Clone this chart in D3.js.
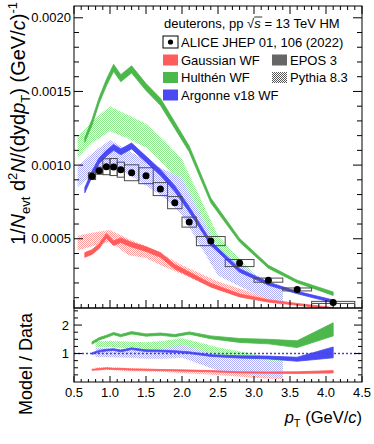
<!DOCTYPE html>
<html>
<head>
<meta charset="utf-8">
<script src="https://cdn.jsdelivr.net/npm/d3@7"></script>
<style>
  body { margin: 0; background: #fff; }
  svg { font-family: "Liberation Sans", Arial, sans-serif; }
</style>
</head>
<body>
<svg id="chart" width="374" height="444"></svg>
<script>
// ALICE deuteron data (pT bins, yields, systematic errors)
var ptData = [0.75, 0.85, 0.95, 1.05, 1.15, 1.3, 1.5, 1.7, 1.9, 2.1, 2.4, 2.8, 3.2, 3.6, 4.1];
var ptLow  = [0.7, 0.8, 0.9, 1.0, 1.1, 1.2, 1.4, 1.6, 1.8, 2.0, 2.2, 2.6, 3.0, 3.4, 3.8];
var ptHigh = [0.8, 0.9, 1.0, 1.1, 1.2, 1.4, 1.6, 1.8, 2.0, 2.2, 2.6, 3.0, 3.4, 3.8, 4.4];
var yieldData = [0.000925, 0.000962, 0.000989, 0.000987, 0.000969, 0.000948, 0.000928, 0.000837, 0.000745, 0.000613, 0.000484, 0.000335, 0.000219, 0.000156, 0.000068];
var yieldSys  = [0.000023, 0.000024, 0.000054, 0.000058, 0.000051, 0.000054, 0.000054, 0.000044, 0.000041, 0.000034, 0.000031, 0.000024, 0.000014, 0.000010, 0.000007];

// EPOS 3 (solid bands)
var ptEpos = [0.65, 0.75, 0.85, 0.95, 1.05, 1.15, 1.3, 1.5, 1.7, 1.9, 2.1, 2.4, 2.8, 3.2, 3.6, 4.1];
var gaussEpos    = [0.00039, 0.00041, 0.00045, 0.00052, 0.00047, 0.00049, 0.00046, 0.00043, 0.00039, 0.00031, 0.00026, 0.000185, 0.000115, 0.000078, 0.000055, 0.000028];
var gaussEposErr = [0.000016, 0.000016, 0.000016, 0.000016, 0.000016, 0.000016, 0.000016, 0.000016, 0.000016, 0.000015, 0.000014, 0.000012, 0.00001, 0.000008, 0.000006, 0.000005];
var hulthenEpos    = [0.00117, 0.00129, 0.00144, 0.00156, 0.00166, 0.00159, 0.00165, 0.00153, 0.00143, 0.00127, 0.00111, 0.00076, 0.00049, 0.00031, 0.00021, 0.000127];
var hulthenEposErr = [0.000015, 0.00002, 0.00002, 0.000022, 0.000024, 0.000024, 0.000024, 0.000024, 0.000024, 0.000022, 0.00002, 0.000016, 0.000012, 0.00001, 0.000009, 0.000012];
var argonneEpos    = [0.00083, 0.00094, 0.00103, 0.00108, 0.00112, 0.00109, 0.00113, 0.00104, 0.00095, 0.00084, 0.00070, 0.00047, 0.000285, 0.000195, 0.000135, 0.000075];
var argonneEposErr = [0.000018, 0.00002, 0.00002, 0.00002, 0.00002, 0.00002, 0.00002, 0.00002, 0.00002, 0.00002, 0.000018, 0.000015, 0.000012, 0.00001, 0.000008, 0.00001];

// Pythia 8.3 (hatched bands, lower / upper edge)
var ptPythia = [0.55, 0.75, 1.0, 1.25, 1.5, 1.75, 2.0, 2.5, 3.0, 3.4];
var gaussPyLo   = [0.00042, 0.00045, 0.00048, 0.00039, 0.00037, 0.00031, 0.00026, 0.00015, 0.00009, 0.00005];
var gaussPyHi   = [0.00052, 0.00054, 0.00056, 0.00050, 0.00045, 0.00039, 0.00032, 0.00021, 0.00013, 0.00008];
var hulthenPyLo = [0.00105, 0.00115, 0.00123, 0.00118, 0.00112, 0.00100, 0.00086, 0.00042, 0.00019, 0.00009];
var hulthenPyHi = [0.00119, 0.00130, 0.00140, 0.00134, 0.00128, 0.00117, 0.00104, 0.00052, 0.00026, 0.00014];
var argonnePyLo = [0.00085, 0.00093, 0.00100, 0.00094, 0.00086, 0.00078, 0.00066, 0.00025, 0.00013, 0.00006];
var argonnePyHi = [0.00099, 0.00108, 0.00117, 0.00110, 0.00103, 0.00097, 0.00091, 0.00043, 0.00026, 0.00017];

// Model / Data, EPOS 3
var gaussRatio      = [0.43, 0.45, 0.48, 0.46, 0.46, 0.44, 0.43, 0.42, 0.41, 0.40, 0.38, 0.34, 0.33, 0.33, 0.36];
var gaussRatioErr   = [0.02, 0.02, 0.02, 0.02, 0.02, 0.02, 0.02, 0.02, 0.02, 0.02, 0.02, 0.02, 0.025, 0.03, 0.04];
var hulthenRatio    = [1.37, 1.52, 1.60, 1.70, 1.63, 1.73, 1.65, 1.68, 1.63, 1.72, 1.57, 1.46, 1.42, 1.33, 1.85];
var hulthenRatioErr = [0.04, 0.04, 0.04, 0.04, 0.04, 0.04, 0.04, 0.04, 0.04, 0.04, 0.05, 0.07, 0.08, 0.12, 0.23];
var argonneRatio    = [1.00, 1.08, 1.12, 1.14, 1.09, 1.17, 1.10, 1.09, 1.07, 1.03, 0.93, 0.88, 0.86, 0.80, 1.04];
var argonneRatioErr = [0.03, 0.03, 0.03, 0.03, 0.03, 0.03, 0.03, 0.03, 0.03, 0.03, 0.03, 0.04, 0.05, 0.07, 0.19];

// Model / Data, Pythia 8.3
var ptPyRatio = [0.8, 1.0, 1.25, 1.5, 1.75, 2.0, 2.5, 3.0, 3.4];
var gaussPyRatioLo   = [0.40, 0.42, 0.38, 0.37, 0.35, 0.32, 0.25, 0.15, 0.10];
var gaussPyRatioHi   = [0.52, 0.52, 0.49, 0.47, 0.45, 0.44, 0.40, 0.37, 0.35];
var hulthenPyRatioLo = [1.22, 1.22, 1.17, 1.12, 1.15, 1.20, 0.94, 0.70, 0.47];
var hulthenPyRatioHi = [1.43, 1.45, 1.42, 1.40, 1.45, 1.55, 1.22, 0.98, 0.76];
var argonnePyRatioLo = [0.88, 0.87, 0.85, 0.82, 0.82, 0.85, 0.40, 0.25, 0.14];
var argonnePyRatioHi = [1.20, 1.18, 1.15, 1.12, 1.18, 1.30, 0.94, 0.80, 0.70];

// Axis ticks
var xMajor = [0.5, 1.0, 1.5, 2.0, 2.5, 3.0, 3.5, 4.0, 4.5];
var yMajor = [0.0005, 0.0010, 0.0015, 0.0020];
var rMajor = [1, 2];

// Farver
var red = "#ff5c5c", green = "#4cb84c", blue = "#4a4af5";
var redHatch = "#ff9c9c", greenHatch = "#8eec8e", blueHatch = "#aeaef6";

var svg = d3.select("#chart");
var pLeft = 74, pRight = 362, pTop = 6, pMid = 308, pBottom = 382;

var x = d3.scaleLinear().domain([0.5, 4.5]).range([pLeft, pRight]);
var y = d3.scaleLinear().domain([0.00003, 0.00208]).range([pMid, pTop]);
var yr = d3.scaleLinear().domain([0, 2.6]).range([pBottom, pMid]);

var defs = svg.append("defs");
defs.append("clipPath").attr("id", "clipMain").append("rect")
    .attr("x", pLeft).attr("y", pTop).attr("width", pRight - pLeft).attr("height", pMid - pTop);
defs.append("clipPath").attr("id", "clipRatio").append("rect")
    .attr("x", pLeft).attr("y", pMid).attr("width", pRight - pLeft).attr("height", pBottom - pMid);

// Ternet skravering (ROOT fill style 3001)
function checker(id, color) {
    var p = defs.append("pattern").attr("id", id)
        .attr("patternUnits", "userSpaceOnUse").attr("width", 2).attr("height", 2);
    p.append("rect").attr("x", 0).attr("y", 0).attr("width", 1).attr("height", 1).attr("fill", color);
    p.append("rect").attr("x", 1).attr("y", 1).attr("width", 1).attr("height", 1).attr("fill", color);
}
checker("hatchRed", redHatch);
checker("hatchGreen", greenHatch);
checker("hatchBlue", blueHatch);
checker("hatchGray", "#555");

function band(g, xs, lo, hi, yS, fill, stroke) {
    var pts = xs.map(function(d, i) { return [d, lo[i], hi[i]]; });
    g.append("path").datum(pts)
        .attr("d", d3.area().x(function(d) { return x(d[0]); })
            .y0(function(d) { return yS(d[1]); })
            .y1(function(d) { return yS(d[2]); }))
        .attr("fill", fill)
        .attr("stroke", stroke || "none")
        .attr("stroke-width", stroke ? 0.8 : 0);
}
function errBand(g, xs, v, e, yS, color) {
    band(g, xs, v.map(function(d, i) { return d - e[i]; }), v.map(function(d, i) { return d + e[i]; }), yS, color, color);
}

// ---- Hovedpanel ----
var gMain = svg.append("g").attr("clip-path", "url(#clipMain)");
band(gMain, ptPythia, gaussPyLo, gaussPyHi, y, "url(#hatchRed)");
band(gMain, ptPythia, hulthenPyLo, hulthenPyHi, y, "url(#hatchGreen)");
band(gMain, ptPythia, argonnePyLo, argonnePyHi, y, "url(#hatchBlue)");
errBand(gMain, ptEpos, gaussEpos, gaussEposErr, y, red);
errBand(gMain, ptEpos, hulthenEpos, hulthenEposErr, y, green);
errBand(gMain, ptEpos, argonneEpos, argonneEposErr, y, blue);

// Systematiske bokse og datapunkter
gMain.selectAll("rect.sys").data(ptData).enter().append("rect")
    .attr("class", "sys")
    .attr("x", function(d, i) { return x(ptLow[i]); })
    .attr("width", function(d, i) { return x(ptHigh[i]) - x(ptLow[i]); })
    .attr("y", function(d, i) { return y(yieldData[i] + yieldSys[i]); })
    .attr("height", function(d, i) { return y(yieldData[i] - yieldSys[i]) - y(yieldData[i] + yieldSys[i]); })
    .attr("fill", "none").attr("stroke", "#4a4a4a").attr("stroke-width", 1);
gMain.selectAll("circle.pt").data(ptData).enter().append("circle")
    .attr("class", "pt")
    .attr("cx", function(d) { return x(d); })
    .attr("cy", function(d, i) { return y(yieldData[i]); })
    .attr("r", 3.5).attr("fill", "#000");

// ---- Ratiopanel ----
var gRatio = svg.append("g").attr("clip-path", "url(#clipRatio)");
band(gRatio, ptPyRatio, gaussPyRatioLo, gaussPyRatioHi, yr, "url(#hatchRed)");
band(gRatio, ptPyRatio, hulthenPyRatioLo, hulthenPyRatioHi, yr, "url(#hatchGreen)");
band(gRatio, ptPyRatio, argonnePyRatioLo, argonnePyRatioHi, yr, "url(#hatchBlue)");
errBand(gRatio, ptData, gaussRatio, gaussRatioErr, yr, red);
errBand(gRatio, ptData, hulthenRatio, hulthenRatioErr, yr, green);
errBand(gRatio, ptData, argonneRatio, argonneRatioErr, yr, blue);
gRatio.append("line")
    .attr("x1", pLeft).attr("x2", pRight).attr("y1", yr(1)).attr("y2", yr(1))
    .attr("stroke", "#4848b8").attr("stroke-width", 1.5).attr("stroke-dasharray", "2,2");

// ---- Rammer og tick-marks ----
var axes = svg.append("g").attr("stroke", "#000").attr("stroke-width", 1).attr("fill", "none");
axes.append("rect").attr("x", pLeft).attr("y", pTop).attr("width", pRight - pLeft).attr("height", pMid - pTop);
axes.append("rect").attr("x", pLeft).attr("y", pMid).attr("width", pRight - pLeft).attr("height", pBottom - pMid);

function tick(x1, y1, x2, y2) {
    axes.append("line").attr("x1", x1).attr("y1", y1).attr("x2", x2).attr("y2", y2);
}
var xMinor = d3.range(5, 46).map(function(d) { return d / 10; });
xMinor.forEach(function(v) {
    var major = xMajor.some(function(m) { return Math.abs(m - v) < 1e-6; });
    var px = x(v);
    var lm = major ? 8 : 4, lr = major ? 6 : 3;
    tick(px, pMid, px, pMid - lm);       // hovedpanel bund
    tick(px, pTop, px, pTop + lm);       // hovedpanel top
    tick(px, pBottom, px, pBottom - lr); // ratio bund
});
d3.range(1, 21).map(function(d) { return d / 10000; }).forEach(function(v) {
    var major = yMajor.some(function(m) { return Math.abs(m - v) < 1e-9; });
    var l = major ? 9 : 5;
    tick(pLeft, y(v), pLeft + l, y(v));
    tick(pRight, y(v), pRight - l, y(v));
});
d3.range(1, 11).map(function(d) { return d / 4; }).forEach(function(v) {
    var major = rMajor.indexOf(v) >= 0;
    var l = major ? 8 : 4;
    tick(pLeft, yr(v), pLeft + l, yr(v));
    tick(pRight, yr(v), pRight - l, yr(v));
});

// ---- Tick-labels ----
var labels = svg.append("g").attr("font-size", 13).attr("fill", "#000");
labels.selectAll("text.yl").data(yMajor).enter().append("text")
    .attr("x", pLeft - 3).attr("y", function(d) { return y(d) + 4.5; })
    .attr("text-anchor", "end").text(d3.format(".4f"));
labels.selectAll("text.rl").data(rMajor).enter().append("text")
    .attr("x", pLeft - 5).attr("y", function(d) { return yr(d) + 4.5; })
    .attr("text-anchor", "end").text(function(d) { return d; });
labels.selectAll("text.xl").data(xMajor).enter().append("text")
    .attr("x", function(d) { return x(d); }).attr("y", pBottom + 15)
    .attr("text-anchor", "middle").text(d3.format(".1f"));

// ---- Aksetitler ----
var xt = svg.append("text").attr("x", pRight).attr("y", 423).attr("text-anchor", "end").attr("font-size", 16.5);
xt.append("tspan").attr("font-style", "italic").text("p");
xt.append("tspan").attr("font-size", 11).attr("dy", 4).text("T");
xt.append("tspan").attr("dy", -4).text(" (GeV/");
xt.append("tspan").attr("font-style", "italic").text("c");
xt.append("tspan").text(")");

svg.append("text").attr("transform", "translate(32," + ((pMid + pBottom) / 2 + 19) + ") rotate(-90)")
    .attr("text-anchor", "middle").attr("font-size", 18).text("Model / Data");

var yt = svg.append("text").attr("transform", "translate(25,2) rotate(-90)")
    .attr("text-anchor", "end").attr("font-size", 20);
yt.append("tspan").text("1/");
yt.append("tspan").attr("font-style", "italic").text("N");
yt.append("tspan").attr("font-size", 13).attr("dy", 5).text("evt");
yt.append("tspan").attr("dy", -5).text(" d");
yt.append("tspan").attr("font-size", 13).attr("dy", -8).text("2");
yt.append("tspan").attr("dy", 8).attr("font-style", "italic").text("N");
yt.append("tspan").text("/(dyd");
yt.append("tspan").attr("font-style", "italic").text("p");
yt.append("tspan").attr("font-size", 13).attr("dy", 5).text("T");
yt.append("tspan").attr("dy", -5).text(") (GeV/");
yt.append("tspan").attr("font-style", "italic").text("c");
yt.append("tspan").text(")");
yt.append("tspan").attr("font-size", 13).attr("dy", -8).text("-1");

// ---- Legende ----
var leg = svg.append("g").attr("font-size", 13);
var hdr = leg.append("text").attr("x", 164).attr("y", 28);
hdr.append("tspan").text("deuterons, pp \u221A");
var sT = hdr.append("tspan").attr("font-style", "italic").text("s");
hdr.append("tspan").text(" = 13 TeV HM");
var sb = sT.node().getBBox();
leg.append("line").attr("x1", sb.x).attr("x2", sb.x + sb.width + 1)
    .attr("y1", sb.y + 1).attr("y2", sb.y + 1).attr("stroke", "#000").attr("stroke-width", 0.8);

var legRows = [42, 60, 77.5, 95];
leg.append("rect").attr("x", 163).attr("y", legRows[0] - 6).attr("width", 15).attr("height", 12)
    .attr("fill", "none").attr("stroke", "#000");
leg.append("circle").attr("cx", 170.5).attr("cy", legRows[0]).attr("r", 2.6).attr("fill", "#000");
leg.append("text").attr("x", 181).attr("y", legRows[0] + 4.5).text("ALICE JHEP 01, 106 (2022)");

var legModels = [
    { color: red, text: "Gaussian WF" },
    { color: green, text: "Hulth\u00e9n WF" },
    { color: blue, text: "Argonne v18 WF" }
];
legModels.forEach(function(d, i) {
    leg.append("rect").attr("x", 163).attr("y", legRows[i + 1] - 5.5).attr("width", 15).attr("height", 11).attr("fill", d.color);
    leg.append("text").attr("x", 181).attr("y", legRows[i + 1] + 4.5).text(d.text);
});
var legGens = [
    { fill: "#666", text: "EPOS 3" },
    { fill: "url(#hatchGray)", text: "Pythia 8.3" }
];
legGens.forEach(function(d, i) {
    leg.append("rect").attr("x", 272).attr("y", legRows[i + 1] - 5.5).attr("width", 15).attr("height", 11).attr("fill", d.fill);
    leg.append("text").attr("x", 290).attr("y", legRows[i + 1] + 4.5).text(d.text);
});
</script>
</body>
</html>
